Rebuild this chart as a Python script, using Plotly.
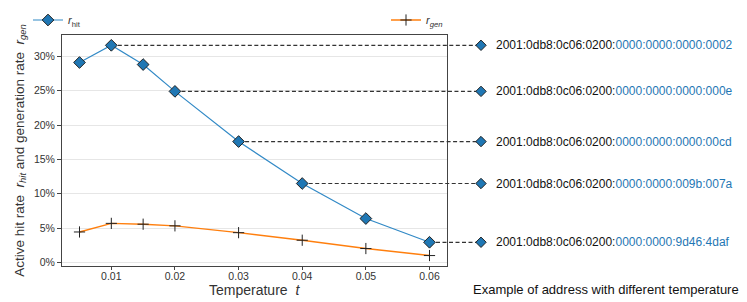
import plotly.graph_objects as go

# ---------------- data ----------------
temperatures = [0.005, 0.01, 0.015, 0.02, 0.03, 0.04, 0.05, 0.06]
r_hit = [29.1, 31.6, 28.8, 24.9, 17.6, 11.5, 6.4, 2.95]
r_gen = [4.45, 5.7, 5.58, 5.34, 4.35, 3.25, 2.04, 1.02]

addr_temperatures = [0.01, 0.02, 0.03, 0.04, 0.06]
addr_prefix = "2001:0db8:0c06:0200:"
addr_suffixes = ["0000:0000:0000:0002", "0000:0000:0000:000e", "0000:0000:0000:00cd",
                 "0000:0000:009b:007a", "0000:0000:9d46:4daf"]

x_ticks = [0.01, 0.02, 0.03, 0.04, 0.05, 0.06]
x_tick_labels = ["0.01", "0.02", "0.03", "0.04", "0.05", "0.06"]
y_ticks = [0, 5, 10, 15, 20, 25, 30]
y_tick_labels = ["0%", "5%", "10%", "15%", "20%", "25%", "30%"]

# ---------------- layout geometry ----------------
W, H = 747, 302
PL, PR, PT, PB = 62, 447, 35, 266        # plot area in pixels
MARK_PX = 481                             # right-hand marker column (px)

x_range = [0.00225, 0.06275]
y_range = [-0.5, 33.1]
x_span = x_range[1] - x_range[0]
x2_range = [x_range[0], x_range[0] + x_span * (W - PL) / (PR - PL)]
mark_x = x_range[0] + x_span * (MARK_PX - PL) / (PR - PL)

BLUE = "#1f77b4"
LINE_BLUE = "#3189c6"
ORANGE = "#ff7f0e"
FONT = "Liberation Sans, Arial, sans-serif"

addr_r = [r_hit[temperatures.index(t)] for t in addr_temperatures]

fig = go.Figure()

# r_gen (on the visible subplot)
fig.add_trace(go.Scatter(x=temperatures, y=r_gen, mode="lines+markers",
                         name="<i>r</i><sub><i>gen</i></sub>",
                         line=dict(color=ORANGE, width=1.4),
                         marker=dict(symbol="cross-thin", size=8,
                                     line=dict(color="#222222", width=1)),
                         xaxis="x", yaxis="y", legend="legend2"))

# dashed connectors
for t, r in zip(addr_temperatures, addr_r):
    fig.add_trace(go.Scatter(x=[t, mark_x], y=[r, r], mode="lines",
                             line=dict(color="#333333", width=1.2, dash="4px,2.5px"),
                             xaxis="x2", yaxis="y2", showlegend=False, hoverinfo="skip"))

# right-hand markers
fig.add_trace(go.Scatter(x=[mark_x] * len(addr_r), y=addr_r, mode="markers",
                         marker=dict(symbol="diamond", size=8, color=BLUE,
                                     line=dict(color="#222222", width=1)),
                         xaxis="x2", yaxis="y2", showlegend=False, hoverinfo="skip",
                         cliponaxis=False))

# r_hit
fig.add_trace(go.Scatter(x=temperatures, y=r_hit, mode="lines+markers",
                         name="<i>r</i><sub>hit</sub>",
                         line=dict(color=LINE_BLUE, width=1.2),
                         marker=dict(symbol="diamond", size=9, color=BLUE,
                                     line=dict(color="#222222", width=1)),
                         xaxis="x2", yaxis="y2", legend="legend"))

# address annotations
for r, suf in zip(addr_r, addr_suffixes):
    fig.add_annotation(x=mark_x, y=r, xref="x2", yref="y2", xanchor="left", yanchor="middle",
                       xshift=13, showarrow=False,
                       text=f'{addr_prefix}<span style="color:{BLUE}">{suf}</span>',
                       font=dict(family=FONT, size=12, color="#111111"))

fig.add_annotation(x=(W - 6) / W, y=1 - 289 / H, xref="paper", yref="paper",
                   xanchor="right", yanchor="middle", showarrow=False,
                   text="Example of address with different temperature",
                   font=dict(family=FONT, size=13, color="#111111"))

# x-axis title placed as text below the tick labels
fig.add_annotation(x=(PL + PR) / 2 / W, y=1 - 290 / H, xref="paper", yref="paper",
                   xanchor="center", yanchor="middle", showarrow=False,
                   text="Temperature  <i>t</i>",
                   font=dict(family=FONT, size=14, color="#333333"))

axis_line = "#444444"
fig.update_layout(
    width=W, height=H,
    margin=dict(l=0, r=0, t=0, b=0),
    paper_bgcolor="white", plot_bgcolor="rgba(0,0,0,0)",
    font=dict(family=FONT, size=11, color="#333333"),
    xaxis=dict(domain=[PL / W, PR / W], range=x_range, anchor="y",
               tickmode="array", tickvals=x_ticks, ticktext=x_tick_labels,
               ticks="outside", ticklen=3, tickcolor=axis_line, showgrid=False,
               ticklabelstandoff=-3,
               showline=True, linecolor=axis_line, linewidth=1, mirror=True,
               zeroline=False, automargin=False,
               tickfont=dict(size=10.5, color="#333333")),
    yaxis=dict(domain=[1 - PB / H, 1 - PT / H], range=y_range, anchor="x",
               tickmode="array", tickvals=y_ticks, ticktext=y_tick_labels,
               ticks="outside", ticklen=4, tickcolor=axis_line,
               showgrid=True, gridcolor="#e6e6e6", gridwidth=1,
               showline=True, linecolor=axis_line, linewidth=1, mirror=True,
               zeroline=False, automargin=False,
               tickfont=dict(size=10.5, color="#333333"),
               title=dict(text="Active hit rate  <i>r</i><sub><i>hit</i></sub> and generation rate  <i>r</i><sub><i>gen</i></sub>",
                          font=dict(size=13.5, color="#333333"), standoff=6)),
    xaxis2=dict(domain=[PL / W, 1], range=x2_range, anchor="y2", visible=False,
                showgrid=False, zeroline=False),
    yaxis2=dict(domain=[1 - PB / H, 1 - PT / H], range=y_range, anchor="x2", visible=False,
                showgrid=False, zeroline=False),
    legend=dict(x=28 / W, y=1 - 20 / H, xanchor="left", yanchor="middle",
                bgcolor="rgba(0,0,0,0)", font=dict(size=11, color="#333333"),
                itemwidth=30),
    legend2=dict(x=386 / W, y=1 - 20 / H, xanchor="left", yanchor="middle",
                 bgcolor="rgba(0,0,0,0)", font=dict(size=11, color="#333333"),
                 itemwidth=30),
)

fig.write_html("out.html", config={"displayModeBar": False},
               post_script="document.body.style.margin='0';")
